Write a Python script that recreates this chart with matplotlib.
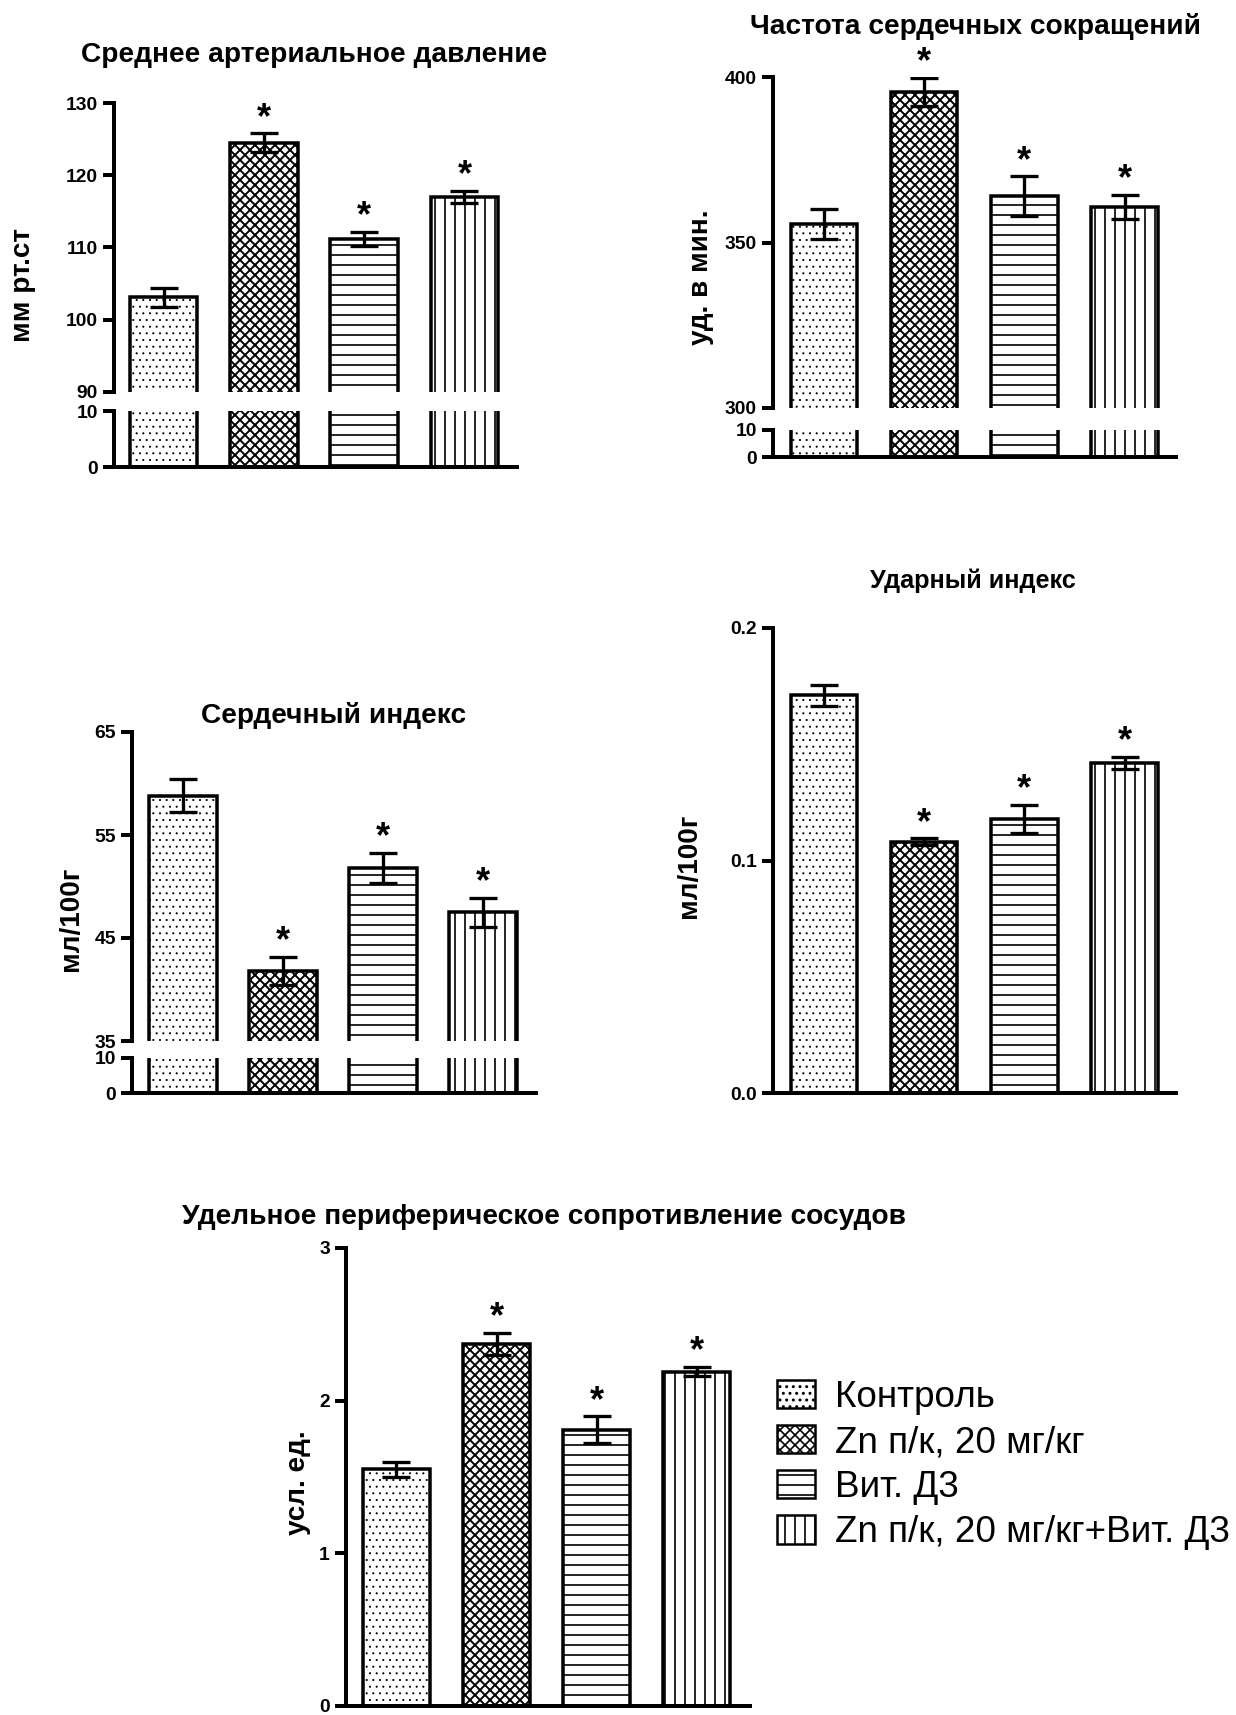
import numpy as np
import matplotlib.pyplot as plt
from matplotlib.patches import Patch

plt.rcParams['font.family'] = ['Liberation Sans', 'DejaVu Sans']
plt.rcParams['hatch.linewidth'] = 1.0

DPI = 120
W, H = 1236, 1715
PT = 72 / DPI   # пиксели -> пункты

# группы и штриховки
groups = ['Контроль', 'Zn п/к, 20 мг/кг', 'Вит. Д3', 'Zn п/к, 20 мг/кг+Вит. Д3']
hatches = ['...', 'xxxx', '--', '||']
hatch_lw = [0.45, 1.15, 1.0, 1.0]
signif = [False, True, True, True]

# среднее артериальное давление, мм рт.ст
map_mean = [103.1, 124.5, 111.2, 117.0]
map_sem = [1.3, 1.3, 1.0, 0.8]

# частота сердечных сокращений, уд. в мин.
hr_mean = [355.6, 395.4, 364.0, 360.8]
hr_sem = [4.5, 4.3, 6.0, 3.6]

# сердечный индекс, мл/100г
ci_mean = [58.8, 41.8, 51.8, 47.5]
ci_sem = [1.6, 1.4, 1.5, 1.4]

# ударный индекс, мл/100г
si_mean = [0.171, 0.108, 0.118, 0.142]
si_sem = [0.0045, 0.0015, 0.006, 0.0027]

# удельное периферическое сопротивление сосудов, усл. ед.
spr_mean = [1.55, 2.37, 1.81, 2.19]
spr_sem = [0.047, 0.073, 0.087, 0.03]

# размеры в пикселях
LW = 3.5 * PT
SPINE = 4.0 * PT
TICK_FS = 19.2 * PT
TITLE_FS = 28.1 * PT
YLAB_FS = 27.9 * PT
STAR_FS = 36 * PT

fig = plt.figure(figsize=(W / DPI, H / DPI), dpi=DPI)


def px_axes(left, top, right, bottom):
    # оси по пиксельным координатам (от левого верхнего угла)
    return fig.add_axes([left / W, 1 - bottom / H, (right - left) / W, (bottom - top) / H])


def set_hatch(patch, i):
    patch.set_hatch(hatches[i])
    if hasattr(patch, 'set_hatch_linewidth'):
        patch.set_hatch_linewidth(hatch_lw[i])


def style_axis(ax, yticks, ylabels, bottom_spine=True):
    for s in ['top', 'right']:
        ax.spines[s].set_visible(False)
    ax.spines['bottom'].set_visible(bottom_spine)
    ax.spines['left'].set_linewidth(SPINE)
    ax.spines['bottom'].set_linewidth(SPINE)
    ax.set_xticks([])
    ax.set_yticks(yticks)
    ax.set_yticklabels(ylabels, fontsize=TICK_FS, fontweight='bold')
    ax.tick_params(axis='y', length=11 * PT, width=SPINE, pad=5 * PT)


def draw_bars(ax, means, sems, width, with_err=True):
    x = np.arange(len(means))
    bars = ax.bar(x, means, width, color='white', edgecolor='black', linewidth=LW, zorder=2)
    for i, b in enumerate(bars):
        set_hatch(b, i)
    if with_err:
        ax.errorbar(x, means, yerr=sems, fmt='none', ecolor='black', elinewidth=3.3 * PT,
                    capsize=14.3 * PT, capthick=3.3 * PT, zorder=3)
        for xi, m, s, flag in zip(x, means, sems, signif):
            if flag:
                ax.annotate('*', xy=(xi, m + s), xytext=(0, 15 * PT), textcoords='offset points',
                            ha='center', va='center', fontsize=STAR_FS, fontweight='bold',
                            annotation_clip=False)
    return bars


def broken_panel(box, lower, ylim, yticks, means, sems, width, xlim):
    left, top, right, brk = box
    l_top, l_bottom = lower
    ax1 = px_axes(left, top, right, brk)
    ax2 = px_axes(left, l_top, right, l_bottom)
    draw_bars(ax1, means, sems, width)
    draw_bars(ax2, means, sems, width, with_err=False)
    ax1.set_ylim(ylim)
    ax2.set_ylim(0, 10)
    ax1.set_xlim(xlim)
    ax2.set_xlim(xlim)
    style_axis(ax1, yticks, [str(t) for t in yticks], bottom_spine=False)
    style_axis(ax2, [0, 10], ['0', '10'])
    return ax1, ax2


def title(x, y, text, fs=TITLE_FS):
    fig.text(x / W, 1 - y / H, text, ha='center', va='center', fontsize=fs, fontweight='bold')


def ylab(x, y, text):
    fig.text(x / W, 1 - y / H, text, ha='center', va='center', rotation=90,
             fontsize=YLAB_FS, fontweight='bold')


# Среднее артериальное давление
broken_panel((114, 103, 517, 392), (411, 467), (90, 130), [90, 100, 110, 120, 130],
             map_mean, map_sem, 0.673, (-0.494, 3.524))
title(314, 55, 'Среднее артериальное давление')
ylab(23, 285, 'мм рт.ст')

# Частота сердечных сокращений
broken_panel((773, 77, 1176, 408), (430, 457), (300, 400), [300, 350, 400],
             hr_mean, hr_sem, 0.664, (-0.509, 3.513))
title(975, 27, 'Частота сердечных сокращений')
ylab(701, 277, 'уд. в мин.')

# Сердечный индекс
broken_panel((132, 732, 536, 1041), (1058, 1093), (35, 65), [35, 45, 55, 65],
             ci_mean, ci_sem, 0.675, (-0.507, 3.53))
title(334, 715, 'Сердечный индекс')
ylab(71, 919, 'мл/100г')

# Ударный индекс
ax4 = px_axes(773, 628, 1176, 1093)
draw_bars(ax4, si_mean, si_sem, 0.664)
ax4.set_ylim(0, 0.2)
ax4.set_xlim(-0.509, 3.513)
style_axis(ax4, [0, 0.1, 0.2], ['0.0', '0.1', '0.2'])
title(973, 581, 'Ударный индекс', fs=25.3 * PT)
ylab(689, 866, 'мл/100г')

# Удельное периферическое сопротивление сосудов
ax5 = px_axes(346, 1248, 750, 1706)
draw_bars(ax5, spr_mean, spr_sem, 0.67)
ax5.set_ylim(0, 3)
ax5.set_xlim(-0.504, 3.53)
style_axis(ax5, [0, 1, 2, 3], ['0', '1', '2', '3'])
title(544, 1217, 'Удельное периферическое сопротивление сосудов')
ylab(298, 1483, 'усл. ед.')

handles = []
for i in range(len(groups)):
    p = Patch(facecolor='white', edgecolor='black', linewidth=2.5 * PT)
    set_hatch(p, i)
    handles.append(p)
fig.legend(handles, groups, loc='upper left', bbox_to_anchor=(777 / W, 1 - 1380 / H),
           frameon=False, fontsize=36.9 * PT, handlelength=1.03, handleheight=0.81,
           handletextpad=0.54, labelspacing=0.27, borderaxespad=0, borderpad=0)

fig.savefig('out.png', dpi=DPI, facecolor='white')
